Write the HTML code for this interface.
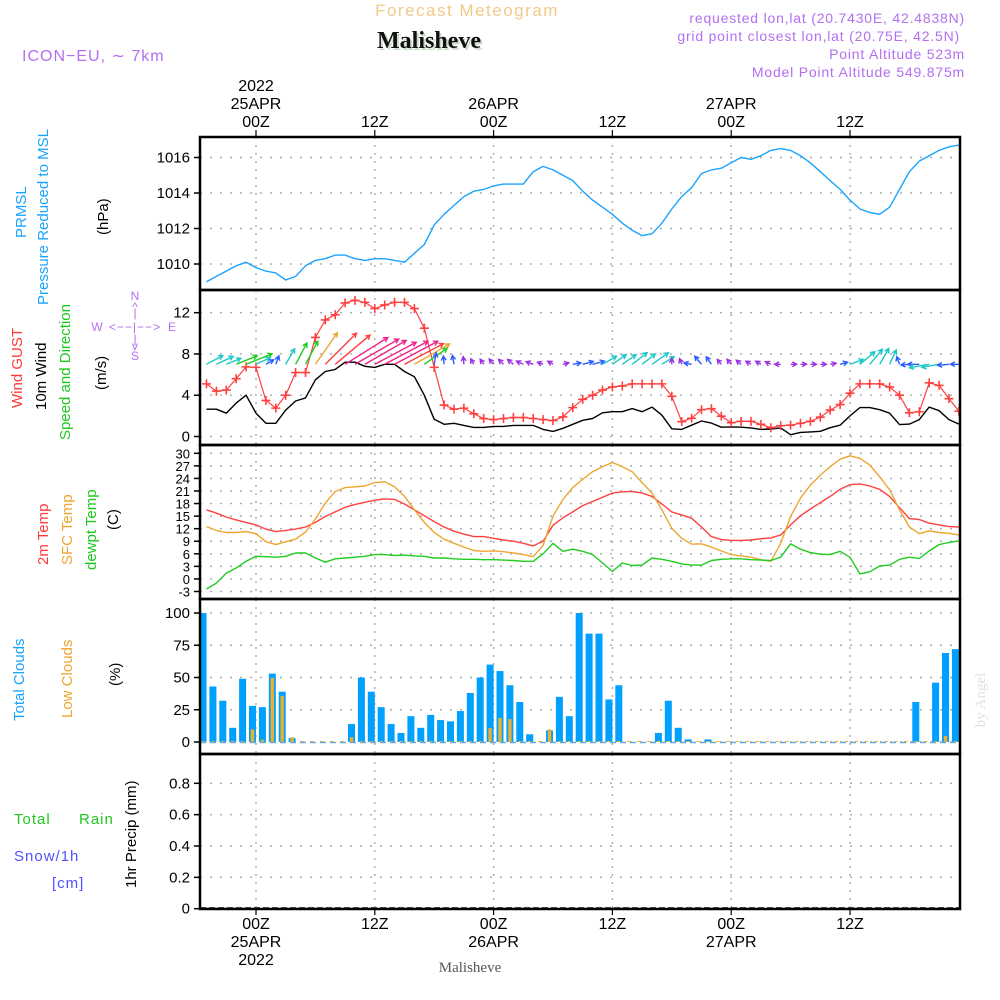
<!DOCTYPE html>
<html><head><meta charset="utf-8"><style>
html,body{margin:0;padding:0;background:#fff;}
svg{display:block;font-family:"Liberation Sans",sans-serif;}
</style></head><body>
<svg id="chart" width="1000" height="1000" viewBox="0 0 1000 1000" xmlns="http://www.w3.org/2000/svg">
<defs><clipPath id="plotclip"><rect x="200" y="130" width="760" height="790"/></clipPath></defs>
<g>
<text x="467" y="16" font-size="17" fill="#f2c98a" text-anchor="middle" letter-spacing="1.5">Forecast Meteogram</text>
<text x="431" y="50" font-size="24" font-weight="bold" font-family="Liberation Serif, serif" fill="#c8dcc8" text-anchor="middle">Malisheve</text>
<text x="429" y="48" font-size="24" font-weight="bold" font-family="Liberation Serif, serif" fill="#111" text-anchor="middle">Malisheve</text>
<text x="22" y="61" font-size="16" fill="#b36ff0" letter-spacing="1">ICON−EU, ∼ 7km</text>
<text x="965" y="23" font-size="14" fill="#b36ff0" text-anchor="end" letter-spacing="0.8">requested lon,lat (20.7430E, 42.4838N)</text>
<text x="960" y="41" font-size="14" fill="#b36ff0" text-anchor="end" letter-spacing="0.8">grid point closest lon,lat (20.75E, 42.5N)</text>
<text x="965" y="59" font-size="14" fill="#b36ff0" text-anchor="end" letter-spacing="0.8">Point Altitude 523m</text>
<text x="965" y="77" font-size="14" fill="#b36ff0" text-anchor="end" letter-spacing="0.8">Model Point Altitude 549.875m</text>
<text x="470" y="972" font-size="15" font-family="Liberation Serif, serif" fill="#555" text-anchor="middle">Malisheve</text>
<text x="985" y="700" font-size="15" font-family="Liberation Serif, serif" fill="#dde3dd" text-anchor="middle" transform="rotate(-90 985 700)">by Angel</text>
</g>
<g font-size="15">
<text transform="translate(26 238) rotate(-90)" fill="#1aa3ff">PRMSL</text>
<text transform="translate(48 305) rotate(-90)" fill="#1aa3ff">Pressure Reduced to MSL</text>
<text transform="translate(108 235) rotate(-90)" fill="#000">(hPa)</text>
<text transform="translate(22 408) rotate(-90)" fill="#ff3a3a">Wind GUST</text>
<text transform="translate(46 410) rotate(-90)" fill="#000">10m Wind</text>
<text transform="translate(70 440) rotate(-90)" fill="#1ec81e">Speed and Direction</text>
<text transform="translate(106 390) rotate(-90)" fill="#000">(m/s)</text>
<text transform="translate(48 565) rotate(-90)" fill="#ff3a3a">2m Temp</text>
<text transform="translate(72 565) rotate(-90)" fill="#eda631">SFC Temp</text>
<text transform="translate(96 570) rotate(-90)" fill="#1ec81e">dewpt Temp</text>
<text transform="translate(118 530) rotate(-90)" fill="#000">(C)</text>
<text transform="translate(24 721) rotate(-90)" fill="#1aa3ff">Total Clouds</text>
<text transform="translate(72 718) rotate(-90)" fill="#eda631">Low Clouds</text>
<text transform="translate(120 686) rotate(-90)" fill="#000">(%)</text>
<text x="14" y="824" fill="#1ec81e" letter-spacing="1">Total</text>
<text x="79" y="824" fill="#1ec81e" letter-spacing="1">Rain</text>
<text x="14" y="861" fill="#5050ff" letter-spacing="1">Snow/1h</text>
<text x="52" y="888" fill="#5050ff" letter-spacing="1">[cm]</text>
<text transform="translate(136 888) rotate(-90)" fill="#000">1hr Precip (mm)</text>
<g fill="#b36ff0" font-size="12">
<text x="135" y="300" text-anchor="middle">N</text>
<text x="135" y="311" text-anchor="middle">^</text>
<text x="135" y="317" text-anchor="middle">|</text>
<text x="97" y="331" text-anchor="middle">W</text>
<text x="135" y="331" text-anchor="middle" letter-spacing="1">&lt;−−|−−&gt;</text>
<text x="172" y="331" text-anchor="middle">E</text>
<text x="135" y="343" text-anchor="middle">|</text>
<text x="135" y="350" text-anchor="middle">v</text>
<text x="135" y="360" text-anchor="middle">S</text>
</g>
</g>
<g id="grid"></g>
<g id="marks" clip-path="url(#plotclip)"></g>
<g id="axes"></g>
</svg>
<script>
const hours = []; for (let h = -5; h <= 71; h++) hours.push(h);
const pressure = [1009.0,1009.3,1009.6,1009.9,1010.1,1009.8,1009.6,1009.5,1009.1,1009.3,1009.9,1010.2,1010.3,1010.5,1010.5,1010.3,1010.2,1010.3,1010.3,1010.2,1010.1,1010.6,1011.1,1012.2,1012.8,1013.3,1013.8,1014.1,1014.2,1014.4,1014.5,1014.5,1014.5,1015.2,1015.5,1015.3,1015.0,1014.7,1014.1,1013.6,1013.2,1012.8,1012.3,1011.9,1011.6,1011.7,1012.3,1013.1,1013.8,1014.3,1015.1,1015.3,1015.4,1015.7,1016.0,1015.9,1016.1,1016.4,1016.5,1016.4,1016.1,1015.7,1015.2,1014.7,1014.2,1013.6,1013.1,1012.9,1012.8,1013.2,1014.2,1015.2,1015.8,1016.1,1016.4,1016.6,1016.7];
const wind10m = [2.65,2.65,2.26,3.24,4.0,2.26,1.28,1.28,2.56,3.44,3.74,5.5,6.3,6.5,7.2,7.2,6.8,6.7,7.0,7.0,6.3,5.8,4.0,1.67,1.18,1.28,1.08,0.88,0.88,0.98,0.98,1.08,1.08,1.08,0.69,0.49,0.79,1.18,1.57,1.74,2.3,2.4,2.4,2.7,2.4,2.85,2.06,0.75,0.69,1.1,1.5,1.3,0.9,0.93,0.9,0.83,0.69,0.72,0.83,0.17,0.4,0.45,0.5,0.85,1.1,2.0,2.8,2.8,2.6,2.26,1.15,1.2,1.64,2.85,2.5,1.64,1.2];
const gust = [5.1,4.4,4.5,5.6,6.75,6.7,3.5,2.75,4.0,6.2,6.2,9.6,11.3,11.8,12.95,13.2,13.0,12.4,12.75,13.0,13.0,12.4,10.5,6.7,3.05,2.65,2.75,2.2,1.74,1.64,1.74,1.84,1.84,1.74,1.64,1.54,1.9,2.8,3.6,4.0,4.5,4.8,4.9,5.1,5.1,5.1,5.1,3.9,1.44,1.77,2.6,2.7,1.97,1.34,1.47,1.47,1.18,0.85,1.05,1.1,1.28,1.47,1.87,2.56,3.1,4.2,5.1,5.1,5.1,4.8,4.0,2.3,2.4,5.2,4.95,3.67,2.45];
const windDir = [28,25,22,22,22,25,30,70,60,62,62,55,45,40,32,30,30,28,28,28,28,30,35,80,95,100,95,120,125,130,135,140,155,160,160,150,15,10,15,15,30,35,35,38,38,35,32,90,110,170,130,125,130,130,140,150,150,155,180,0,0,0,0,10,15,20,40,50,60,65,110,185,180,190,190,185,180];
const temp2m = [16.5,15.7,14.8,14.1,13.5,12.9,11.9,11.3,11.6,11.9,12.4,13.5,14.9,16.0,17.1,17.8,18.3,18.8,19.1,19.0,17.9,16.5,15.1,13.7,12.4,11.4,10.7,10.1,10.1,9.7,9.3,9.0,8.5,7.9,9.0,12.8,14.6,16.0,17.5,18.5,19.5,20.5,20.8,20.9,20.5,19.7,17.9,16.0,15.3,14.5,12.4,10.1,9.4,9.2,9.2,9.3,9.6,9.8,10.5,12.9,15.1,16.7,18.2,19.7,21.4,22.5,22.7,22.2,21.4,19.7,17.0,14.4,14.2,13.3,12.9,12.5,12.4];
const sfcTemp = [12.5,11.6,11.1,11.1,11.3,10.8,8.9,8.2,8.9,9.5,11.2,14.3,18.1,20.9,21.8,22.0,22.2,23.0,23.2,22.0,19.7,16.5,13.5,11.1,9.5,8.5,7.6,6.8,6.6,6.7,6.5,6.2,5.8,5.3,8.0,15.0,19.0,21.8,23.8,25.6,26.8,27.8,26.8,25.6,23.0,20.5,16.5,12.1,9.7,8.3,8.4,7.6,6.7,5.8,5.5,5.2,4.6,4.2,8.5,14.9,19.3,22.4,24.8,26.8,28.6,29.4,28.8,27.2,24.4,21.3,16.5,12.4,10.8,11.5,11.1,10.9,10.5];
const dewpt = [-2.4,-1.0,1.4,2.6,4.2,5.4,5.3,5.2,5.4,6.2,6.2,5.0,4.0,4.8,5.0,5.2,5.4,5.8,5.8,5.6,5.7,5.5,5.4,5.0,5.0,4.8,4.7,4.7,4.6,4.6,4.5,4.4,4.2,4.2,6.0,8.5,6.6,7.1,6.6,5.8,3.8,1.8,3.8,3.2,3.3,5.0,4.7,4.2,3.6,3.3,3.3,4.4,4.7,4.8,4.8,4.6,4.5,4.4,5.2,8.4,7.1,6.3,5.9,5.8,6.6,5.2,1.2,1.7,3.1,3.3,4.7,5.2,4.9,6.7,8.2,8.7,9.1];
const totalClouds = [100,43,32,11,49,28,27,53,39,3,0,0,0,0,0,14,50,39,27,14,7,20,11,21,17,16,24,38,50,60,55,44,31,6,0,9,35,20,100,84,84,33,44,0,0,0,7,32,11,2,0,2,0,0,0,0,0,0,0,0,0,0,0,0,0,0,0,0,0,0,0,0,31,0,46,69,72];
const lowClouds = [0,0,0,0,0,9,1,49,35,3,0,0,0,0,0,3,0,0,0,0,0,0,0,0,0,0,0,0,0,10,18,17,0,0,0,9,0,0,0,0,0,0,0,0,0,0,0,0,0,0,0,0,0,0,0,0,0,0,0,0,0,0,0,0,0,0,0,0,0,0,0,0,0,0,0,4,0];
const precip = hours.map(() => 0);
const pressureTicks = [1010,1012,1014,1016];
const windTicks = [0,4,8,12];
const tempTicks = [-3,0,3,6,9,12,15,18,21,24,27,30];
const cloudTicks = [0,25,50,75,100];
const precipTicks = [0,0.2,0.4,0.6,0.8];
const timeTickHours = [0,12,24,36,48,60];
const topTickLabels = [["2022","25APR","00Z"],["12Z"],["26APR","00Z"],["12Z"],["27APR","00Z"],["12Z"]];
const bottomTickLabels = [["00Z","25APR","2022"],["12Z"],["00Z","26APR"],["12Z"],["00Z","27APR"],["12Z"]];

const NS = "http://www.w3.org/2000/svg";
const X0 = 200, X1 = 960;
const xScale = h => 256 + h * 9.9;
function lin(d0, d1, r0, r1) { return v => r0 + (v - d0) * (r1 - r0) / (d1 - d0); }
const yP = lin(1010, 1016, 264, 157.5);
const yW = lin(0, 12, 436.5, 312.7);
const yT = lin(-3, 30, 591.5, 453.3);
const yC = lin(0, 100, 742, 613);
const yR = lin(0, 0.8, 908.7, 783.3);
const panels = [
  {name:"pressure", top:137, bot:290, y:yP, ticks:pressureTicks, fmt:v=>String(v)},
  {name:"wind", top:290, bot:445, y:yW, ticks:windTicks, fmt:v=>String(v)},
  {name:"temperature", top:445, bot:599, y:yT, ticks:tempTicks, fmt:v=>String(v)},
  {name:"clouds", top:599, bot:754, y:yC, ticks:cloudTicks, fmt:v=>String(v)},
  {name:"precip", top:754, bot:909, y:yR, ticks:precipTicks, fmt:v=>v===0?"0":v.toFixed(1)}
];
function el(tag, attrs, parent) {
  const e = document.createElementNS(NS, tag);
  for (const k in attrs) e.setAttribute(k, attrs[k]);
  parent.appendChild(e); return e;
}
const grid = document.getElementById("grid");
const marks = document.getElementById("marks");
const axes = document.getElementById("axes");

panels.forEach(p => {
  p.ticks.forEach(t => {
    const y = p.y(t);
    const g = el("line", {x1:X0, x2:X1, y1:y, y2:y, stroke:"#aaa", "stroke-width":1.4, "stroke-dasharray":"2 8"}, grid);
    
    
    const tk = el("line", {x1:X0-6, x2:X0, y1:y, y2:y, stroke:"#000", "stroke-width":1.5}, axes);
    
    
    const lb = el("text", {x:X0-10, y:y+5, "font-size": p.name==="temperature"?13:15, "text-anchor":"end", fill:"#000"}, axes);
    
    
    lb.textContent = p.fmt(t);
  });
  timeTickHours.forEach(h => {
    const x = xScale(h);
    const g = el("line", {x1:x, x2:x, y1:p.top, y2:p.bot, stroke:"#aaa", "stroke-width":1.4, "stroke-dasharray":"2 6"}, grid);
    
    
  });
  const r = el("rect", {x:X0, y:p.top, width:X1-X0, height:p.bot-p.top, fill:"none", stroke:"#000", "stroke-width":2.5}, axes);
  
  
});
timeTickHours.forEach((h, i) => {
  const x = xScale(h);
  const t1 = el("line", {x1:x, x2:x, y1:130, y2:137, stroke:"#000", "stroke-width":1.2}, axes);
  
  
  const t2 = el("line", {x1:x, x2:x, y1:909, y2:915, stroke:"#000", "stroke-width":1.2}, axes);
  
  
  const lines = topTickLabels[i];
  lines.forEach((s, k) => {
    const t = el("text", {x:x, y:127 - (lines.length-1-k)*18, "font-size":16, "text-anchor":"middle", fill:"#000"}, axes);
    
    
    t.textContent = s;
  });
  bottomTickLabels[i].forEach((s, k) => {
    const t = el("text", {x:x, y:929 + k*18, "font-size":16, "text-anchor":"middle", fill:"#000"}, axes);
    
    
    t.textContent = s;
  });
});
function path(vals, yf, color, name, w) {
  const d = vals.map((v, i) => (i ? "L" : "M") + xScale(hours[i]).toFixed(1) + " " + yf(v).toFixed(1)).join(" ");
  const p = el("path", {d:d, fill:"none", stroke:color, "stroke-width":w||1.4, "stroke-linejoin":"round"}, marks);
  
  
  return p;
}
// clouds
totalClouds.forEach((v, i) => {
  const x = xScale(hours[i]) - 3.5;
  const b = el("rect", {x:x-3.5, y:yC(v), width:7, height:Math.max(0, yC(0)-yC(v)), fill:"#00a0ff"}, marks);
  
  
  const lv = lowClouds[i];
  const b2 = el("rect", {x:x-1.7, y:yC(lv)-1, width:3.4, height:yC(0)-yC(lv)+1, fill:"#eab030"}, marks);
  
  
});
const zc = el("line", {x1:X0, x2:X1, y1:yC(0)+0.5, y2:yC(0)+0.5, stroke:"#6aa8d8", "stroke-width":1.5, "stroke-dasharray":"6 4"}, marks);


precip.forEach((v, i) => {
  const x = xScale(hours[i]);
  const b = el("rect", {x:x-3, y:yR(v)-1, width:6, height:yR(0)-yR(v)+1, fill:"#1ec81e"}, marks);
  
  
});
const zp = el("line", {x1:X0, x2:X1, y1:yR(0)-1, y2:yR(0)-1, stroke:"#333", "stroke-width":1.2, "stroke-dasharray":"6 3"}, marks);


path(pressure, yP, "#1aa3ff", "pressure-line");
path(temp2m, yT, "#ff4040", "temp-2m-line");
path(sfcTemp, yT, "#eda631", "sfc-temp-line");
path(dewpt, yT, "#20cc20", "dewpoint-line");
path(wind10m, yW, "#000", "wind-10m-line");
path(gust, yW, "#ff4040", "gust-line", 1.2);
gust.forEach((v, i) => {
  const x = xScale(hours[i]), y = yW(v);
  const m = el("path", {d:`M${x-4.5} ${y}H${x+4.5}M${x} ${y-4.5}V${y+4.5}`, stroke:"#ff4040", "stroke-width":1.6}, marks);
  
  
});
function windColor(s) {
  if (s < 1.1) return "#9b30e0";
  if (s < 2.0) return "#2a5cff";
  if (s < 3.0) return "#1cc8c8";
  if (s < 4.5) return "#20cc20";
  if (s < 5.2) return "#a8d830";
  if (s < 6.0) return "#eda631";
  if (s < 6.6) return "#ff4040";
  return "#f0208a";
}
windDir.forEach((a, i) => {
  const s = wind10m[i];
  const len = Math.max(6, s * 7);
  const x = xScale(hours[i]), y = yW(7.0);
  const r = a * Math.PI / 180;
  const x2 = x + Math.cos(r) * len, y2 = y - Math.sin(r) * len;
  const hl = 5, ha = 0.5;
  const h1x = x2 - Math.cos(r - ha) * hl, h1y = y2 + Math.sin(r - ha) * hl;
  const h2x = x2 - Math.cos(r + ha) * hl, h2y = y2 + Math.sin(r + ha) * hl;
  const col = windColor(s);
  const ar = el("path", {d:`M${x} ${y}L${x2} ${y2}M${h1x} ${h1y}L${x2} ${y2}L${h2x} ${h2y}`, stroke:col, "stroke-width":1.4, fill:"none"}, marks);
  
  
});
</script>
</body></html>
